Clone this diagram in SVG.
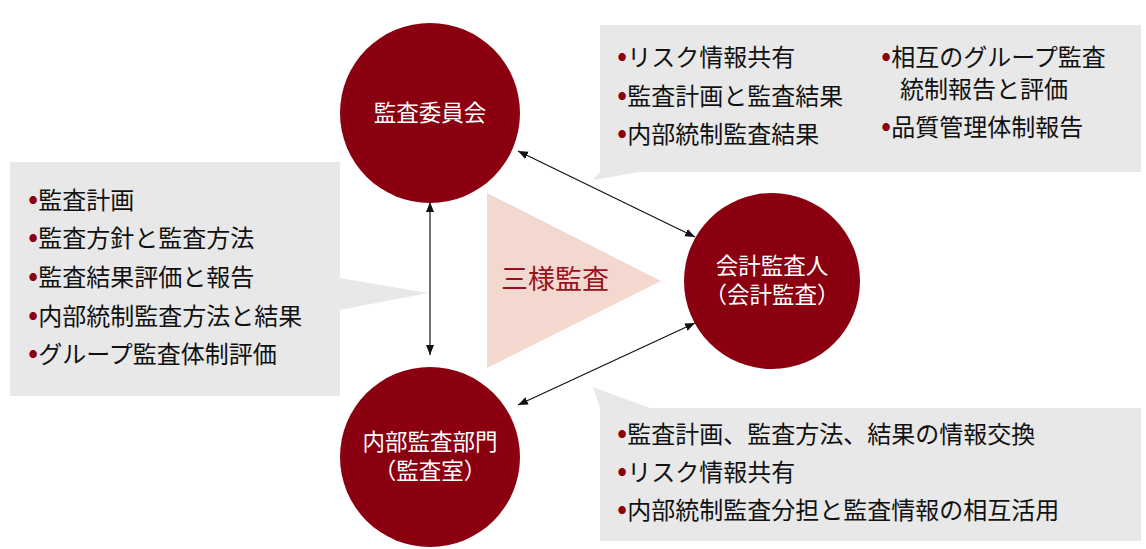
<svg xmlns="http://www.w3.org/2000/svg" width="1146" height="549" viewBox="0 0 1146 549">
<style>
.c{fill:#8a0011}
.b{fill:#e8e8e8}
.t{font-family:"Noto Sans CJK JP","Noto Sans",sans-serif;font-size:24px;fill:#111}
.w{font-family:"Noto Sans CJK JP","Noto Sans",sans-serif;font-size:22.5px;fill:#fff;text-anchor:middle}
.d{fill:#8a0011;font-size:30px}
.l{stroke:#111;stroke-width:1.2;marker-start:url(#a);marker-end:url(#a)}
</style>
<defs><marker id="a" viewBox="0 0 10 10" refX="10" refY="5" markerWidth="10" markerHeight="10" markerUnits="userSpaceOnUse" orient="auto-start-reverse"><path d="M0,1L10,5L0,9z" fill="#111"/></marker></defs>
<rect width="1146" height="549" fill="#fff"/>
<g id="callouts">
<path class="b" d="M600,25H1141V172H640L593,180L600,172Z"/>
<path class="b" d="M10,162H340V278L428,293L340,310V396H10Z"/>
<path class="b" d="M593,387L650,408H1141V541H600V408Z"/>
</g>
<polygon points="487,193 487,368 661,281" fill="#f2d8cf"/>
<text x="555" y="289" font-family="Noto Sans CJK JP,sans-serif" font-size="27" fill="#9a1020" text-anchor="middle">三様監査</text>
<g id="connectors">
<line class="l" x1="430" y1="202" x2="430" y2="355"/>
<line class="l" x1="518" y1="151" x2="695" y2="237"/>
<line class="l" x1="518" y1="405" x2="695" y2="323"/>
</g>
<g id="n1"><circle class="c" cx="430" cy="113" r="90"/><text class="w" x="430" y="121">監査委員会</text></g>
<g id="n2"><circle class="c" cx="772" cy="281" r="88"/><text class="w" x="772" y="274">会計監査人</text><text class="w" x="772" y="303">（会計監査）</text></g>
<g id="n3"><circle class="c" cx="430" cy="457" r="90"/><text class="w" x="430" y="450">内部監査部門</text><text class="w" x="430" y="479">（監査室）</text></g>
<g id="text-left">
<text class="t" x="28" y="209"><tspan class="d">•</tspan>監査計画</text>
<text class="t" x="28" y="247"><tspan class="d">•</tspan>監査方針と監査方法</text>
<text class="t" x="28" y="286"><tspan class="d">•</tspan>監査結果評価と報告</text>
<text class="t" x="28" y="325"><tspan class="d">•</tspan>内部統制監査方法と結果</text>
<text class="t" x="28" y="363"><tspan class="d">•</tspan>グループ監査体制評価</text>
</g>
<g id="text-tr">
<text class="t" x="617" y="66"><tspan class="d">•</tspan>リスク情報共有</text>
<text class="t" x="617" y="105"><tspan class="d">•</tspan>監査計画と監査結果</text>
<text class="t" x="617" y="143"><tspan class="d">•</tspan>内部統制監査結果</text>
<text class="t" x="881" y="66"><tspan class="d">•</tspan>相互のグループ監査</text>
<text class="t" x="900" y="98">統制報告と評価</text>
<text class="t" x="881" y="136"><tspan class="d">•</tspan>品質管理体制報告</text>
</g>
<g id="text-br">
<text class="t" x="617" y="443"><tspan class="d">•</tspan>監査計画、監査方法、結果の情報交換</text>
<text class="t" x="617" y="481"><tspan class="d">•</tspan>リスク情報共有</text>
<text class="t" x="617" y="519"><tspan class="d">•</tspan>内部統制監査分担と監査情報の相互活用</text>
</g>
</svg>
